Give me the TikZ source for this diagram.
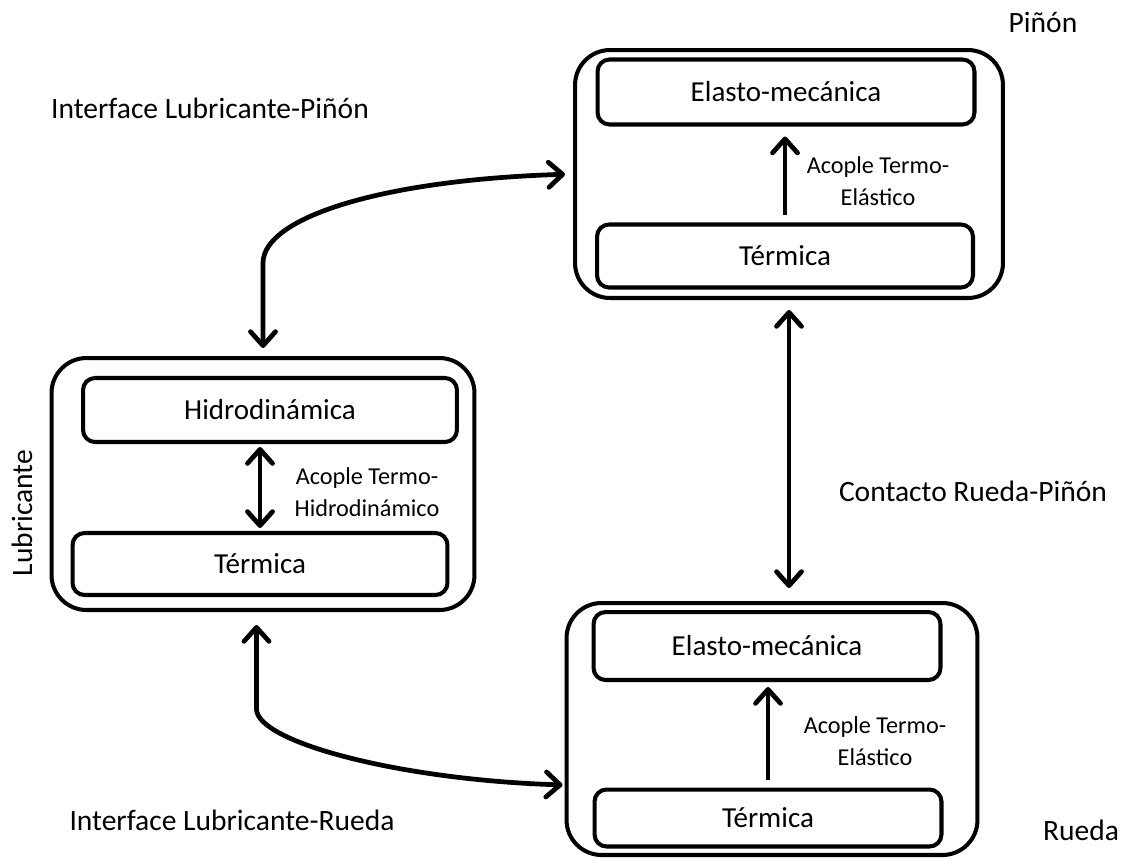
\documentclass[tikz,border=0pt]{standalone}
\usepackage{fontspec}
\setmainfont{Carlito}
\usetikzlibrary{arrows.meta}
\begin{document}
\begin{tikzpicture}[x=0.02cm, y=-0.02cm,
    caja/.style={draw, line width=2.3pt, rounded corners=0.7cm, inner sep=0pt},
    sub/.style={draw, line width=2.3pt, rounded corners=0.24cm, inner sep=0pt,
      font=\fontsize{16.5}{20}\selectfont},
    rotulo/.style={font=\fontsize{16.8}{20}\selectfont},
    nota/.style={align=center, font=\fontsize{13.8}{18}\selectfont},
    punta/.tip={Straight Barb[length=2.8mm,width=5mm,line cap=round,line join=round]},
    flecha/.style={line width=2.7pt, -punta},
    doble/.style={line width=2.7pt, punta-punta}]
    \useasboundingbox (0,0) rectangle (1124,859);

    % Pinon
    \node[caja, minimum width=8.56cm, minimum height=4.96cm] (pinon) at (789,174) {};
    \node[sub, minimum width=7.54cm, minimum height=1.3cm] (ep) at (786,92) {Elasto-mecánica};
    \node[sub, minimum width=7.52cm, minimum height=1.26cm] (tp) at (785,256) {Térmica};
    \draw[flecha, shorten <=0.14cm, shorten >=0.2cm] (tp.north) -- (tp.north |- ep.south);
    \node[nota] (np) at (878,181) {Acople Termo-\\Elástico};

    % Lubricante
    \node[caja, minimum width=8.46cm, minimum height=5.04cm] (lubri) at (263,484) {};
    \node[sub, minimum width=7.48cm, minimum height=1.28cm] (hl) at (270,410) {Hidrodinámica};
    \node[sub, minimum width=7.5cm, minimum height=1.24cm] (tl) at (260,564) {Térmica};
    \draw[doble, shorten <=0.06cm, shorten >=0.06cm] (tl.north) -- (tl.north |- hl.south);
    \node[nota] (nl) at (367,492) {Acople Termo-\\Hidrodinámico};

    % Rueda
    \node[caja, minimum width=8.22cm, minimum height=5.04cm] (rueda) at (772,729) {};
    \node[sub, minimum width=6.94cm, minimum height=1.36cm] (er) at (767,646) {Elasto-mecánica};
    \node[sub, minimum width=6.94cm, minimum height=1.14cm] (tr) at (768,818) {Térmica};
    \draw[flecha, shorten <=0.16cm, shorten >=0.1cm] (tr.north) -- (tr.north |- er.south);
    \node[nota] (nr) at (875,741) {Acople Termo-\\Elástico};

    % Conexiones entre bloques
    \draw[doble, shorten <=0.2cm, shorten >=0.26cm] (pinon.south) -- (pinon.south |- rueda.north);
    \draw[doble, shorten <=0.16cm, shorten >=0.16cm] (lubri.north) -- ++(0,-93)
        .. controls ++(0,-45) and (380,180) .. (pinon.west);
    \draw[doble, shorten <=0.26cm, shorten >=0.04cm] ([xshift=-0.13cm]lubri.south) -- ++(0,97)
        .. controls ++(0,33) and (400,780) .. ([yshift=-1.12cm]rueda.west);

    % Rotulos
    \node[rotulo] (tpinon) at (1043,22) {Piñón};
    \node[rotulo] (trueda) at (1081,830) {Rueda};
    \node[rotulo, rotate=90] (tlubri) at (22,513) {Lubricante};
    \node[rotulo] (ilp) at (210,108) {Interface Lubricante-Piñón};
    \node[rotulo] (ilr) at (232,820) {Interface Lubricante-Rueda};
    \node[rotulo] (crp) at (973,491) {Contacto Rueda-Piñón};
\end{tikzpicture}
\end{document}
